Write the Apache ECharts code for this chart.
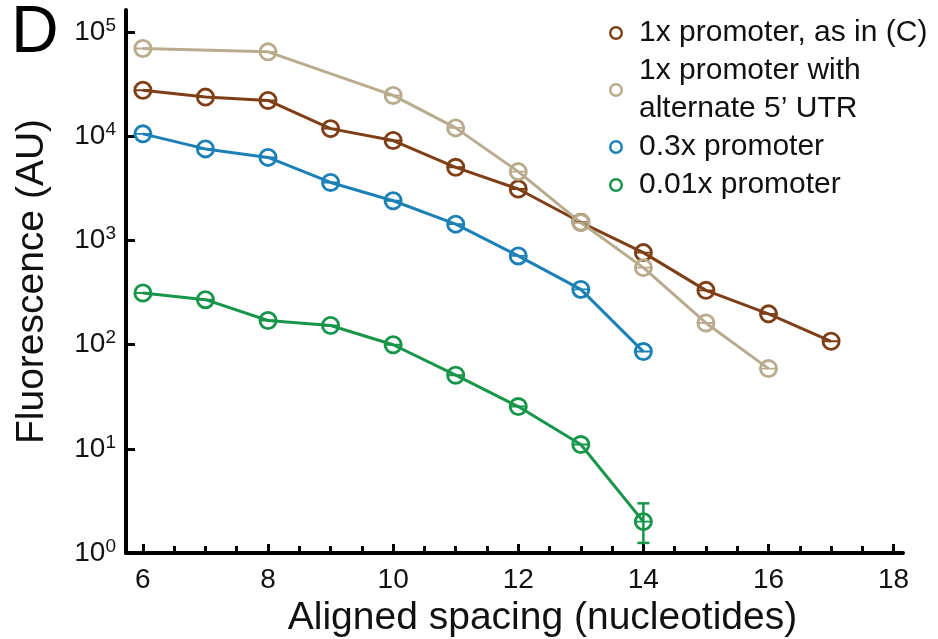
<!DOCTYPE html>
<html>
<head>
<meta charset="utf-8">
<script src="https://cdn.jsdelivr.net/npm/echarts@6/dist/echarts.min.js"></script>
<style>
  html, body { margin: 0; padding: 0; background: #fff; }
  #chart { width: 938px; height: 639px; }
</style>
</head>
<body>
<div id="chart"></div>
<script>
// 数据
const brownX = [6, 7, 8, 9, 10, 11, 12, 13, 14, 15, 16, 17]
const brownY = [27800, 23900, 22200, 11900, 9150, 5060, 3130, 1500, 767, 333, 198, 108]
const tanX = [6, 8, 10, 11, 12, 13, 14, 15, 16]
const tanY = [70000, 65000, 24800, 12100, 4600, 1490, 550, 162, 59]
const blueX = [6, 7, 8, 9, 10, 11, 12, 13, 14]
const blueY = [10600, 7600, 6300, 3620, 2415, 1440, 713, 340, 86]
const greenX = [6, 7, 8, 9, 10, 11, 12, 13, 14]
const greenY = [314, 271, 171, 153, 100, 51, 25.5, 11, 2.0]

// 误差棒（只画出超出圆圈的那个）
const errX = [14]
const errLow = [1.25]
const errHigh = [3.0]

const seriesNames = ['1x promoter, as in (C)', '1x promoter with\nalternate 5\u2019 UTR', '0.3x promoter', '0.01x promoter']
const colors = ['#7E3F17', '#B9AC8E', '#1B80B6', '#17964A']

// 刻度
const xMajorTicks = [6, 8, 10, 12, 14, 16, 18]
const xMinorTicks = [6.5, 7, 7.5, 8.5, 9, 9.5, 10.5, 11, 11.5, 12.5, 13, 13.5, 14.5, 15, 15.5, 16.5, 17, 17.5]
const yTicks = [1, 10, 100, 1000, 10000, 100000]

const ringWithBar = 'path://M10 0A10 10 0 1 1 10 20A10 10 0 1 1 10 0ZM10 3A7 7 0 1 0 10 17A7 7 0 1 0 10 3ZM3 9L17 9L17 11L3 11Z'
const ring = 'path://M10 0A10 10 0 1 1 10 20A10 10 0 1 1 10 0ZM10 3.5A6.5 6.5 0 1 0 10 16.5A6.5 6.5 0 1 0 10 3.5Z'

const font = 'Liberation Sans, Arial, Helvetica, sans-serif'

const pairs = (xs, ys) => xs.map((x, i) => [x, ys[i]])

const makeLine = (name, xs, ys, color) => ({
  name,
  type: 'line',
  data: pairs(xs, ys),
  symbol: ringWithBar,
  symbolSize: 19,
  lineStyle: { color, width: 3 },
  itemStyle: { color, borderWidth: 0 },
  emphasis: { disabled: true },
  z: 3
})

const chart = echarts.init(document.getElementById('chart'))

const option = {
  animation: false,
  textStyle: { fontFamily: font },
  graphic: [
    {
      type: 'text',
      left: 11,
      top: 1,
      style: { text: 'D', font: '66px ' + font, fill: '#000' }
    }
  ],
  legend: {
    orient: 'vertical',
    left: 604,
    top: 9,
    itemGap: 0,
    itemWidth: 14,
    itemHeight: 14,
    icon: ring,
    data: seriesNames,
    textStyle: {
      fontSize: 30,
      lineHeight: 38,
      color: '#111',
      padding: [0, 0, 0, 11]
    }
  },
  grid: {
    left: 126,
    right: 35,
    top: 10,
    bottom: 86,
    outerBoundsMode: 'none'
  },
  xAxis: [
    {
      type: 'value',
      min: 5.73,
      max: 18.15,
      name: 'Aligned spacing (nucleotides)',
      nameLocation: 'middle',
      nameGap: 31,
      nameTextStyle: { fontSize: 39, color: '#111', padding: [0, 0, 0, 56] },
      axisLine: { lineStyle: { color: '#000', width: 4 } },
      axisTick: { inside: true, length: 9, customValues: xMajorTicks, lineStyle: { color: '#000', width: 3 } },
      axisLabel: { customValues: xMajorTicks, margin: 13, fontSize: 28, color: '#111' },
      splitLine: { show: false }
    },
    {
      type: 'value',
      min: 5.73,
      max: 18.15,
      position: 'bottom',
      axisLine: { show: false },
      axisTick: { inside: true, length: 7, customValues: xMinorTicks, lineStyle: { color: '#000', width: 3 } },
      axisLabel: { show: false },
      splitLine: { show: false }
    }
  ],
  yAxis: {
    type: 'log',
    logBase: 10,
    min: 1,
    max: 164000,
    name: 'Fluorescence (AU)',
    nameLocation: 'middle',
    nameGap: 74,
    nameTextStyle: { fontSize: 39, color: '#111' },
    axisLine: { show: true, lineStyle: { color: '#000', width: 4 } },
    axisTick: { inside: true, length: 9, customValues: yTicks, lineStyle: { color: '#000', width: 3 } },
    axisLabel: {
      customValues: yTicks,
      margin: 10,
      formatter: v => '{b|10}{s|' + Math.round(Math.log10(v)) + '}',
      rich: {
        b: { fontSize: 28, color: '#111', lineHeight: 32 },
        s: { fontSize: 19, color: '#111', verticalAlign: 'top', lineHeight: 18 }
      }
    },
    splitLine: { show: false }
  },
  series: [
    makeLine(seriesNames[0], brownX, brownY, colors[0]),
    makeLine(seriesNames[1], tanX, tanY, colors[1]),
    makeLine(seriesNames[2], blueX, blueY, colors[2]),
    makeLine(seriesNames[3], greenX, greenY, colors[3]),
    {
      type: 'custom',
      name: 'err',
      data: errX.map((x, i) => [x, errLow[i], errHigh[i]]),
      z: 2,
      renderItem: (params, api) => {
        const lo = api.coord([api.value(0), api.value(1)])
        const hi = api.coord([api.value(0), api.value(2)])
        const w = 6
        const style = { stroke: colors[3], lineWidth: 2.5 }
        return {
          type: 'group',
          children: [
            { type: 'line', shape: { x1: lo[0], y1: lo[1], x2: hi[0], y2: hi[1] }, style },
            { type: 'line', shape: { x1: lo[0] - w, y1: lo[1], x2: lo[0] + w, y2: lo[1] }, style },
            { type: 'line', shape: { x1: hi[0] - w, y1: hi[1], x2: hi[0] + w, y2: hi[1] }, style }
          ]
        }
      }
    }
  ]
}

chart.setOption(option)
window.addEventListener('resize', () => chart.resize())
</script>
</body>
</html>
